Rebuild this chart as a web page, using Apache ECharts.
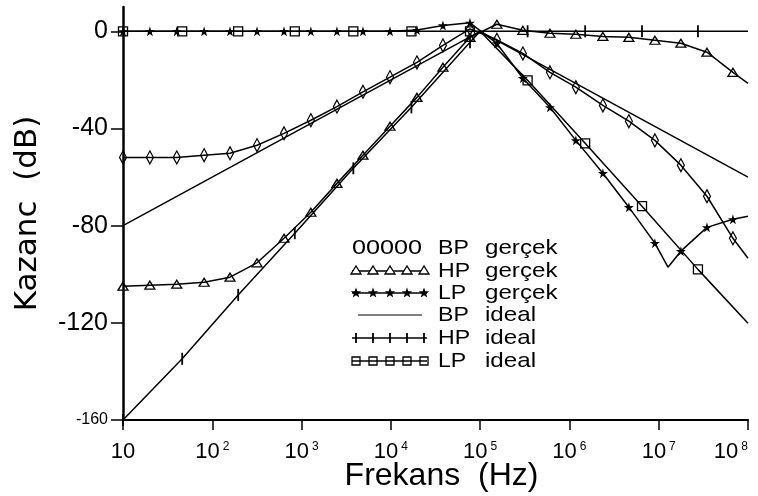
<!DOCTYPE html>
<html>
<head>
<meta charset="utf-8">
<script src="https://cdn.jsdelivr.net/npm/echarts@6/dist/echarts.min.js"></script>
<style>
  html, body { margin: 0; padding: 0; background: #fff; }
  #chart { width: 758px; height: 496px; }
</style>
</head>
<body>
<div id="chart"></div>
<script>
// Measured (gerçek) responses: one marker per frequency below, Hz
const freqReal = [10, 20, 40, 81, 158, 317, 636, 1270, 2490, 4870, 9780, 19600,
  38300, 76900, 154000, 301000, 605000, 1.18e6, 2.37e6, 4.63e6, 9.06e6, 1.77e7, 3.47e7, 6.78e7];
const bpReal = [-51.9, -51.9, -51.9, -51.0, -50.2, -46.9, -42.0, -36.6, -31.0, -24.9, -18.9, -12.8,
  -5.8, 1.0, -3.5, -9.1, -16.9, -23.0, -30.5, -37.0, -44.9, -55.1, -67.9, -85.2];
const hpReal = [-104.9, -104.5, -104.1, -103.3, -101.2, -95.3, -85.2, -74.5, -62.6, -51.0, -39.1, -27.2,
  -14.8, -2.5, 2.9, 0.4, -0.8, -1.2, -2.1, -2.5, -3.7, -4.9, -8.6, -16.9];
const lpReal = [0, 0, 0, 0, 0, 0, 0, 0, 0, 0, 0, 0.5,
  2.4, 3.5, -5.0, -19.3, -31.3, -44.9, -58.4, -72.4, -87.2, -90.5, -80.7, -77.4];
// Curve vertices without a marker (right edge of the plot, LP notch)
const bpRealExtra = [[1e8, -93.4]];
const hpRealExtra = [[1e8, -21.4]];
const lpRealExtra = [[1.27e7, -97.1], [1e8, -76.1]];

// Ideal (asymptotic) responses
const freqIdeal = [10, 46, 195, 840, 3800, 17000, 77000, 340000, 1.5e6, 6.5e6, 2.75e7];
const hpIdeal = [-160, -134.8, -108.5, -83.1, -56.4, -31.3, -4.5, 0, 0, 0, 0];
const lpIdeal = [0, 0, 0, 0, 0, 0, 0, -20.2, -46.1, -72.0, -98.0];
const hpIdealExtra = [[1e5, 0], [1e8, 0]];
const lpIdealExtra = [[1e5, 0], [1e8, -120.2]];
const bpIdeal = [[10, -80], [1e5, 0], [1e8, -60]];

// Axis ticks
const decadeTicks = [10, 100, 1e3, 1e4, 1e5, 1e6, 1e7, 1e8];
const gainTicks = [-160, -120, -80, -40, 0];

// Legend entries: filter, kind
const legendRows = [
  ['BP', 'gerçek'], ['HP', 'gerçek'], ['LP', 'gerçek'],
  ['BP', 'ideal'], ['HP', 'ideal'], ['LP', 'ideal']
];

const FONT = 'Liberation Sans, Arial, sans-serif';
const STAR = 'path://M50,0 L61,35 L98,35 L68,57 L79,91 L50,70 L21,91 L32,57 L2,35 L39,35 Z';

// merge marker points and marker-less vertices into one sorted line
function buildLine(freqs, vals, extra) {
  const pts = freqs.map((f, i) => ({ value: [f, vals[i]] }));
  (extra || []).forEach(p => pts.push({ value: p, symbol: 'none' }));
  pts.sort((a, b) => a.value[0] - b.value[0]);
  return pts;
}

const hollow = { color: 'rgba(255,255,255,0)', borderColor: '#000', borderWidth: 1.3 };
const line = { color: '#000', width: 1.5 };

function mk(name, data, symbol, size, itemStyle) {
  return {
    name, type: 'line', data, symbol, symbolSize: size,
    showAllSymbol: true, lineStyle: line, itemStyle,
    emphasis: { disabled: true }, animation: false, z: 3
  };
}

const series = [
  mk('BP gerçek', buildLine(freqReal, bpReal, bpRealExtra), 'diamond', [7, 13], hollow),
  mk('HP gerçek', buildLine(freqReal, hpReal, hpRealExtra), 'triangle', [10, 8], hollow),
  mk('LP gerçek', buildLine(freqReal, lpReal, lpRealExtra), STAR, 10, { color: '#000' }),
  mk('BP ideal', bpIdeal.map(p => ({ value: p })), 'none', 0, { color: '#000' }),
  mk('HP ideal', buildLine(freqIdeal, hpIdeal, hpIdealExtra), 'rect', [1.8, 12], { color: '#000' }),
  mk('LP ideal', buildLine(freqIdeal, lpIdeal, lpIdealExtra), 'rect', [9, 9], hollow)
];

// hand-drawn legend block
function starPoints(cx, cy, R, r) {
  const pts = [];
  for (let i = 0; i < 10; i++) {
    const a = -Math.PI / 2 + i * Math.PI / 5;
    const rad = i % 2 ? r : R;
    pts.push([cx + rad * Math.cos(a), cy + rad * Math.sin(a)]);
  }
  return pts;
}
const legendEls = [];
const rowY = [248, 271, 293, 315, 338, 361];
const sx = [356, 373, 390, 407, 424];
const legendFont = '21px ' + FONT;
legendRows.forEach((row, i) => {
  const y = rowY[i];
  if (i === 0) {
    legendEls.push({ type: 'text', x: 352, y: y, scaleX: 1.2,
      style: { text: '00000', font: legendFont, fill: '#000', textVerticalAlign: 'middle' } });
  } else if (i === 3) {
    legendEls.push({ type: 'line', shape: { x1: 358, y1: y, x2: 422, y2: y }, style: { stroke: '#000', lineWidth: 1 } });
  } else {
    legendEls.push({ type: 'line', shape: { x1: 352, y1: y, x2: 427, y2: y }, style: { stroke: '#000', lineWidth: 1.5 } });
    sx.forEach(x => {
      if (i === 1) legendEls.push({ type: 'polygon', shape: { points: [[x - 5, y + 3], [x + 5, y + 3], [x, y - 5]] }, style: { fill: '#fff', stroke: '#000', lineWidth: 1.3 } });
      if (i === 2) legendEls.push({ type: 'polygon', shape: { points: starPoints(x, y, 5.5, 2.3) }, style: { fill: '#000' } });
      if (i === 4) legendEls.push({ type: 'rect', shape: { x: x - 0.9, y: y - 5, width: 1.8, height: 10 }, style: { fill: '#000' } });
      if (i === 5) legendEls.push({ type: 'rect', shape: { x: x - 4, y: y - 4, width: 8, height: 8 }, style: { fill: 'rgba(255,255,255,0)', stroke: '#000', lineWidth: 1.3 } });
    });
  }
  legendEls.push({ type: 'text', x: 438, y: y, scaleX: 1.1, style: { text: row[0], font: legendFont, fill: '#000', textVerticalAlign: 'middle' } });
  legendEls.push({ type: 'text', x: 485, y: y, scaleX: 1.15, style: { text: row[1], font: legendFont, fill: '#000', textVerticalAlign: 'middle' } });
});

const chart = echarts.init(document.getElementById('chart'), null, { renderer: 'canvas' });
chart.setOption({
  backgroundColor: '#fff',
  animation: false,
  grid: { left: 123, right: 10, top: 7, bottom: 76, containLabel: false, outerBoundsMode: 'none' },
  xAxis: {
    type: 'log', logBase: 10, min: 10, max: 1e8,
    position: 'bottom',
    name: 'Frekans  (Hz)', nameLocation: 'middle', nameGap: 40, nameMoveOverlap: false,
    nameTextStyle: { fontFamily: FONT, fontSize: 32, color: '#000', padding: [0, 0, 0, 12] },
    axisLine: { onZero: false, lineStyle: { color: '#000', width: 2 } },
    axisTick: { show: true, customValues: decadeTicks, length: 10, lineStyle: { color: '#000', width: 1.5 } },
    axisLabel: {
      customValues: decadeTicks, margin: 21, color: '#000', alignMaxLabel: 'right',
      formatter: v => {
        const e = Math.round(Math.log10(v));
        return e === 1 ? '{b|10}' : '{b|10}{p|' + e + '}';
      },
      rich: {
        b: { fontFamily: FONT, fontSize: 22, color: '#000' },
        p: { fontFamily: FONT, fontSize: 12, color: '#000', verticalAlign: 'top', padding: [0, 0, 10, 3] }
      }
    },
    splitLine: { show: false }
  },
  yAxis: {
    type: 'value', min: -160, max: 10,
    name: 'Kazanc  (dB)', nameLocation: 'middle', nameGap: 80, nameRotate: 90,
    nameTextStyle: { fontFamily: 'DejaVu Sans', fontSize: 31, color: '#000' },
    axisLine: { onZero: false, lineStyle: { color: '#000', width: 2.5 } },
    axisTick: { customValues: gainTicks, length: 12, lineStyle: { color: '#000', width: 1.5 } },
    axisLabel: {
      customValues: gainTicks, margin: 15, color: '#000',
      fontFamily: FONT, fontSize: 25,
      formatter: v => v === -160 ? '{s|-160}' : String(v),
      rich: { s: { fontFamily: FONT, fontSize: 16, color: '#000' } }
    },
    splitLine: { show: false }
  },
  series: series,
  graphic: { elements: legendEls }
});
</script>
</body>
</html>
